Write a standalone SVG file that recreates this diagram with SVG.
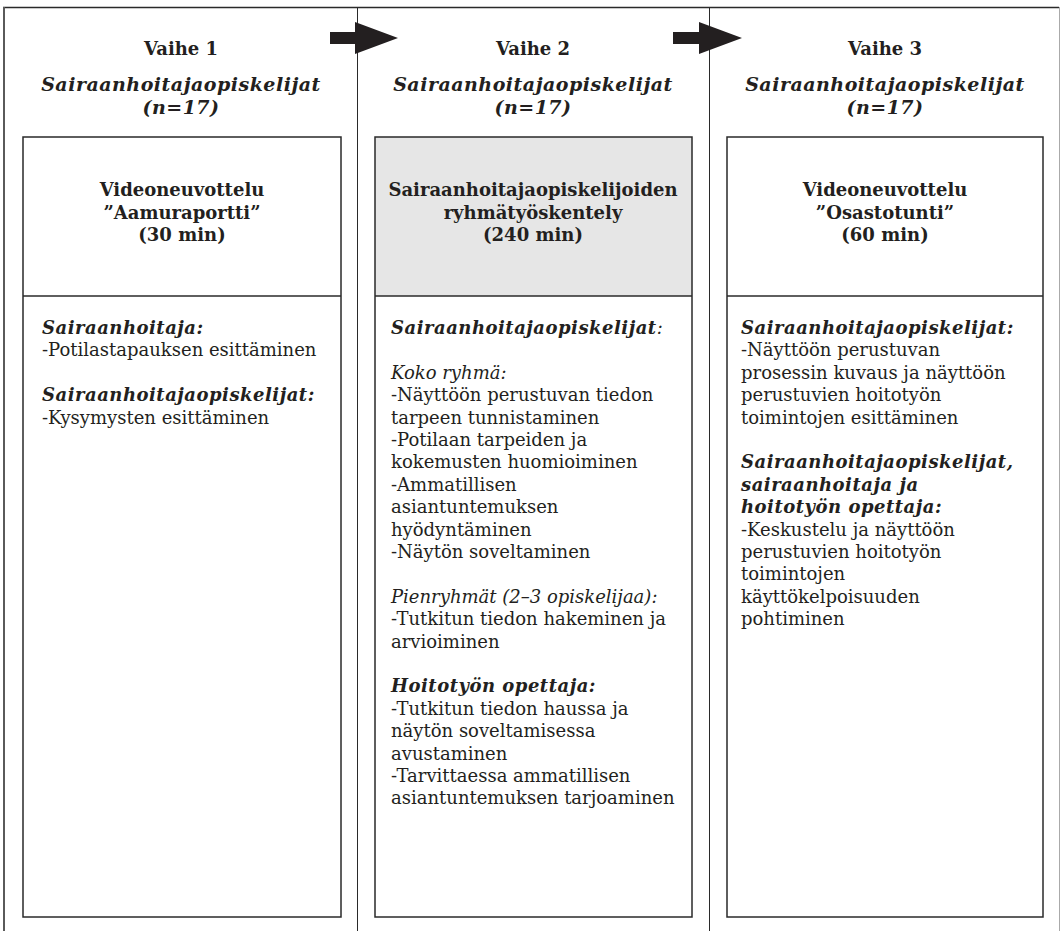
<svg xmlns="http://www.w3.org/2000/svg" width="1061" height="931" viewBox="0 0 1061 931">
<style>
text{font-family:"DejaVu Serif","Liberation Serif",serif;font-size:18px;fill:#231f20}
.c{text-anchor:middle}
.b{font-weight:bold}
.i{font-style:italic}
.bi{font-weight:bold;font-style:italic;letter-spacing:0.5px}
.h{font-size:19px}
.box{fill:none;stroke:#2a2a2a;stroke-width:1.5}
.arrow{fill:#231f20}
</style>
<rect width="1061" height="931" fill="#fff"/>
<g id="frame">
<line x1="3" y1="7.5" x2="1059" y2="7.5" stroke="#2a2a2a" stroke-width="1.5"/>
<line x1="4" y1="7" x2="4" y2="931" stroke="#5a5a5a" stroke-width="2"/>
<line x1="1059.5" y1="7" x2="1059.5" y2="931" stroke="#aaa" stroke-width="1"/>
<line x1="357.5" y1="7" x2="357.5" y2="931" stroke="#2a2a2a" stroke-width="1"/>
<line x1="709.5" y1="7" x2="709.5" y2="931" stroke="#2a2a2a" stroke-width="1"/>
</g>
<g id="connectors">
<polygon class="arrow" points="330,32 355,32 355,22 398,38 355,54 355,44 330,44"/>
<polygon class="arrow" points="673,32 699,32 699,22 742,38 699,54 699,44 673,44"/>
</g>
<g id="vaihe1">
<text class="c b" x="181" y="55">Vaihe 1</text>
<text class="c bi h" x="181" y="91">Sairaanhoitajaopiskelijat</text>
<text class="c bi h" x="181" y="114">(n=17)</text>
<rect class="box" x="23" y="137" width="318" height="780"/>
<line class="box" x1="23" y1="296" x2="341" y2="296"/>
<text class="c b" x="182" y="196">Videoneuvottelu</text>
<text class="c b" x="182" y="218.5">”Aamuraportti”</text>
<text class="c b" x="182" y="241">(30 min)</text>
<text class="bi" x="42" y="334">Sairaanhoitaja:</text>
<text x="42" y="356.4">-Potilastapauksen esittäminen</text>
<text class="bi" x="42" y="401.2">Sairaanhoitajaopiskelijat:</text>
<text x="42" y="423.6">-Kysymysten esittäminen</text>
</g>
<g id="vaihe2">
<text class="c b" x="533" y="55">Vaihe 2</text>
<text class="c bi h" x="533" y="91">Sairaanhoitajaopiskelijat</text>
<text class="c bi h" x="533" y="114">(n=17)</text>
<rect x="375" y="137" width="317" height="159" fill="#e6e6e6"/>
<rect class="box" x="375" y="137" width="317" height="780"/>
<line class="box" x1="375" y1="296" x2="692" y2="296"/>
<text class="c b" x="533" y="196">Sairaanhoitajaopiskelijoiden</text>
<text class="c b" x="533" y="218.5">ryhmätyöskentely</text>
<text class="c b" x="533" y="241">(240 min)</text>
<text x="391" y="334"><tspan class="bi">Sairaanhoitajaopiskelijat</tspan><tspan class="i">:</tspan></text>
<text class="i" x="391" y="378.8">Koko ryhmä:</text>
<text x="391" y="401.2">-Näyttöön perustuvan tiedon</text>
<text x="391" y="423.6">tarpeen tunnistaminen</text>
<text x="391" y="446">-Potilaan tarpeiden ja</text>
<text x="391" y="468.4">kokemusten huomioiminen</text>
<text x="391" y="490.8">-Ammatillisen</text>
<text x="391" y="513.2">asiantuntemuksen</text>
<text x="391" y="535.6">hyödyntäminen</text>
<text x="391" y="558">-Näytön soveltaminen</text>
<text class="i" x="391" y="602.8">Pienryhmät (2–3 opiskelijaa):</text>
<text x="391" y="625.2">-Tutkitun tiedon hakeminen ja</text>
<text x="391" y="647.6">arvioiminen</text>
<text class="bi" x="391" y="692.4">Hoitotyön opettaja:</text>
<text x="391" y="714.8">-Tutkitun tiedon haussa ja</text>
<text x="391" y="737.2">näytön soveltamisessa</text>
<text x="391" y="759.6">avustaminen</text>
<text x="391" y="782">-Tarvittaessa ammatillisen</text>
<text x="391" y="804.4">asiantuntemuksen tarjoaminen</text>
</g>
<g id="vaihe3">
<text class="c b" x="885" y="55">Vaihe 3</text>
<text class="c bi h" x="885" y="91">Sairaanhoitajaopiskelijat</text>
<text class="c bi h" x="885" y="114">(n=17)</text>
<rect class="box" x="727" y="137" width="316" height="780"/>
<line class="box" x1="727" y1="296" x2="1043" y2="296"/>
<text class="c b" x="885" y="196">Videoneuvottelu</text>
<text class="c b" x="885" y="218.5">”Osastotunti”</text>
<text class="c b" x="885" y="241">(60 min)</text>
<text class="bi" x="741" y="334">Sairaanhoitajaopiskelijat:</text>
<text x="741" y="356.4">-Näyttöön perustuvan</text>
<text x="741" y="378.8">prosessin kuvaus ja näyttöön</text>
<text x="741" y="401.2">perustuvien hoitotyön</text>
<text x="741" y="423.6">toimintojen esittäminen</text>
<text class="bi" x="741" y="468.4">Sairaanhoitajaopiskelijat,</text>
<text class="bi" x="741" y="490.8">sairaanhoitaja ja</text>
<text class="bi" x="741" y="513.2">hoitotyön opettaja:</text>
<text x="741" y="535.6">-Keskustelu ja näyttöön</text>
<text x="741" y="558">perustuvien hoitotyön</text>
<text x="741" y="580.4">toimintojen</text>
<text x="741" y="602.8">käyttökelpoisuuden</text>
<text x="741" y="625.2">pohtiminen</text>
</g>
</svg>
